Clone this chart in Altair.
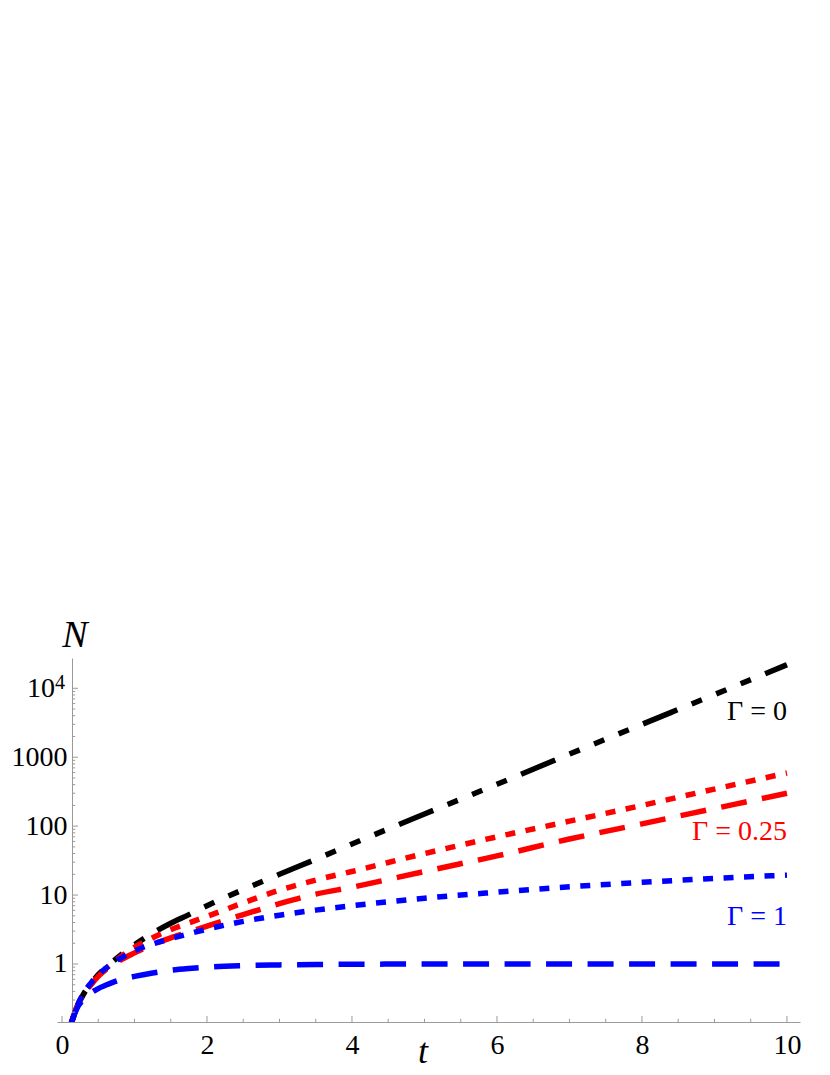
import altair as alt
import pandas as pd

# ---- data ----
t_vals = [0.12, 0.2, 0.3, 0.4, 0.5, 0.6, 0.8, 1.0, 1.25, 1.5, 1.75, 2.0,
          2.5, 3.0, 3.5, 4.0, 5.0, 6.0, 7.0, 8.0, 9.0, 10.0]

n_g0 = [0.13, 0.23, 0.37, 0.52, 0.70, 0.88, 1.32, 1.9, 2.8, 3.9, 5.2, 7.0,
        12, 20, 33, 55, 150, 405, 1110, 3000, 8100, 22000]
n_g025_dotted = [0.13, 0.23, 0.37, 0.51, 0.68, 0.85, 1.25, 1.75, 2.4, 3.15, 3.95, 4.9,
                 7.7, 11.8, 16.5, 22, 40, 70, 118, 200, 345, 590]
n_g025_dashed = [0.13, 0.23, 0.36, 0.50, 0.66, 0.82, 1.13, 1.45, 1.92, 2.4, 2.9, 3.55,
                 5.2, 7.5, 10.3, 13, 22, 37, 65, 108, 180, 300]
n_g1_dotted = [0.13, 0.23, 0.38, 0.53, 0.70, 0.86, 1.2, 1.55, 1.95, 2.33, 2.75, 3.2,
               4.15, 5.1, 6.05, 7.0, 9.0, 11.0, 13.2, 15.3, 17.4, 19.5]
n_g1_dashed = [0.13, 0.22, 0.31, 0.38, 0.44, 0.49, 0.59, 0.66, 0.74, 0.81, 0.86, 0.90,
               0.945, 0.97, 0.985, 0.99, 1.0, 1.0, 1.0, 1.0, 1.0, 1.0]

x_major = [0, 2, 4, 6, 8, 10]
x_minor = [0.5, 1, 1.5, 2.5, 3, 3.5, 4.5, 5, 5.5, 6.5, 7, 7.5, 8.5, 9, 9.5]
y_major = [1, 10, 100, 1000, 10000]
y_minor = [m * d for d in [0.1, 1, 10, 100, 1000] for m in range(2, 10)]
y_power_tick = [10000]
y_power_base = ["10"]
y_power_exp = ["4"]

label_text = ["Γ = 0", "Γ = 0.25", "Γ = 1"]
label_t = [10.0, 10.0, 10.0]
label_n = [4500, 82, 4.8]
label_color = ["#000000", "#ff0000", "#0000ff"]

x_title = "t"
y_title = "N"

X_DOMAIN = [-0.069, 10.18]
Y_DOMAIN = [0.144, 27500]

# ---- styles ----
FONT = "Liberation Serif"
AXIS_GRAY = "#9a9a9a"
W, H = 743, 364

xs = alt.Scale(domain=X_DOMAIN, nice=False, zero=False)
ys = alt.Scale(type="log", domain=Y_DOMAIN, nice=False)

x_axis = alt.Axis(values=x_major, format="d", grid=False, ticks=False, tickSize=0,
                  domainColor=AXIS_GRAY, domainWidth=1, labelFont=FONT, labelFontSize=28,
                  labelColor="black", labelPadding=9, labelFlush=False, labelOverlap=False,
                  title=None)
y_axis = alt.Axis(values=y_major,
                  labelExpr="datum.value >= 10000 ? '' : format(datum.value, 'd')",
                  grid=False, ticks=False, tickSize=0, offset=-15,
                  domainColor=AXIS_GRAY, domainWidth=1, labelFont=FONT, labelFontSize=28,
                  labelColor="black", labelPadding=5, labelFlush=False, labelOverlap=False,
                  title=None)


def X(field):
    return alt.X(field, scale=xs, axis=x_axis)


def Y(field):
    return alt.Y(field, scale=ys, axis=y_axis)


def series(values, color, dash):
    df = pd.DataFrame({"t": t_vals, "n": values})
    return alt.Chart(df).mark_line(
        color=color, strokeWidth=5.5, strokeDash=dash, strokeCap="butt",
        interpolate="monotone", clip=True
    ).encode(x=X("t:Q"), y=Y("n:Q"))


black = series(n_g0, "#000000", [37, 15.5, 11, 15.5, 11, 15.5, 11, 15.5])
red_dot = series(n_g025_dotted, "#ff0000", [10, 10.5])
red_dash = series(n_g025_dashed, "#ff0000", [26, 15.5])
blue_dot = series(n_g1_dotted, "#0000ff", [10, 10.5])
blue_dash = series(n_g1_dashed, "#0000ff", [26, 15.5])

# inward ticks (Mathematica style)
xt_major = alt.Chart(pd.DataFrame({"t": x_major})).mark_rule(color=AXIS_GRAY, strokeWidth=1).encode(
    x=X("t:Q"), y=alt.value(H), y2=alt.value(H - 6))
xt_minor = alt.Chart(pd.DataFrame({"t": x_minor})).mark_rule(color=AXIS_GRAY, strokeWidth=1).encode(
    x=X("t:Q"), y=alt.value(H), y2=alt.value(H - 3.2))
yt_major = alt.Chart(pd.DataFrame({"n": y_major})).mark_rule(color=AXIS_GRAY, strokeWidth=1).encode(
    y=Y("n:Q"), x=alt.value(15), x2=alt.value(21))
yt_minor = alt.Chart(pd.DataFrame({"n": y_minor})).mark_rule(color=AXIS_GRAY, strokeWidth=1).encode(
    y=Y("n:Q"), x=alt.value(15), x2=alt.value(18.2))

# 10^4 label with a real superscript
pow_df = pd.DataFrame({"n": y_power_tick, "b": y_power_base, "e": y_power_exp})
pow_base = alt.Chart(pow_df).mark_text(
    align="right", baseline="middle", font=FONT, fontSize=28, color="black", dy=1
).encode(y=Y("n:Q"), x=alt.value(-2), text="b:N")
pow_exp = alt.Chart(pow_df).mark_text(
    align="left", baseline="middle", font=FONT, fontSize=20, color="black", dy=-5
).encode(y=Y("n:Q"), x=alt.value(-2), text="e:N")

labels = alt.Chart(pd.DataFrame({"t": label_t, "n": label_n, "s": label_text, "c": label_color})).mark_text(
    align="right", baseline="middle", font=FONT, fontSize=28
).encode(
    x=X("t:Q"),
    y=Y("n:Q"),
    text="s:N",
    color=alt.Color("c:N", scale=None),
)

n_title = alt.Chart(pd.DataFrame({"s": [y_title]})).mark_text(
    align="center", baseline="middle", font=FONT, fontSize=38, fontStyle="italic", color="black"
).encode(x=alt.value(18), y=alt.value(-22), text="s:N")

t_title = alt.Chart(pd.DataFrame({"s": [x_title]})).mark_text(
    align="center", baseline="alphabetic", font=FONT, fontSize=36, fontStyle="italic", color="black"
).encode(x=alt.value(366), y=alt.value(405), text="s:N")

chart = alt.layer(
    black, red_dot, red_dash, blue_dot, blue_dash,
    xt_major, xt_minor, yt_major, yt_minor,
    pow_base, pow_exp,
    labels, n_title, t_title
).properties(
    width=W, height=H,
    autosize=alt.AutoSizeParams(type="none"),
    padding={"left": 49, "top": 650, "right": 22, "bottom": 45},
    background="white",
).configure_view(stroke=None)

chart.save("out.html", embed_options={"renderer": "svg", "actions": False})
